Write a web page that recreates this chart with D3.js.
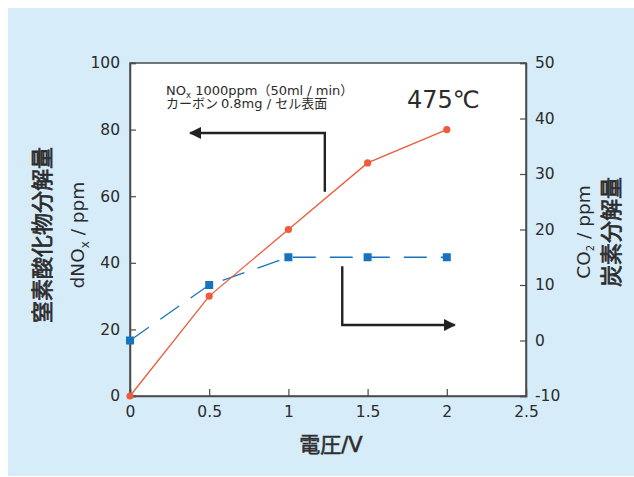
<!DOCTYPE html>
<html>
<head>
<meta charset="utf-8">
<script src="https://cdn.jsdelivr.net/npm/d3@7"></script>
<style>
  body { margin: 0; background: #fff; }
  svg { display: block; }
  text { font-family: "DejaVu Sans", "Noto Sans CJK JP", sans-serif; fill: #2b2b2b; }
  .jp { font-family: "Noto Sans CJK JP", sans-serif; }
</style>
</head>
<body>
<script>
// voltage (V)
const voltage = [0, 0.5, 1, 1.5, 2];
// dNOx decomposition, ppm (left axis)
const noxValues = [0, 30, 50, 70, 80];
// CO2, ppm (right axis)
const co2Values = [0, 10, 15, 15, 15];

const xTicks = [0, 0.5, 1, 1.5, 2, 2.5];
const yLeftTicks = [0, 20, 40, 60, 80, 100];
const yRightTicks = [-10, 0, 10, 20, 30, 40, 50];

const W = 634, H = 477;
const margin = {left: 130, right: 108, top: 63, bottom: 81};
const innerWidth = W - margin.left - margin.right;
const innerHeight = H - margin.top - margin.bottom;

const svg = d3.select("body").append("svg")
  .attr("width", W)
  .attr("height", H);

// light blue panel
svg.append("rect")
  .attr("x", 8).attr("y", 8)
  .attr("width", W - 8).attr("height", H - 9)
  .attr("fill", "#d6ecf9");

const g = svg.append("g")
  .attr("transform", `translate(${margin.left},${margin.top})`);

const x = d3.scaleLinear().domain([0, 2.5]).range([0, innerWidth]);
const yL = d3.scaleLinear().domain([0, 100]).range([innerHeight, 0]);
const yR = d3.scaleLinear().domain([-10, 50]).range([innerHeight, 0]);

g.append("rect")
  .attr("width", innerWidth).attr("height", innerHeight)
  .attr("fill", "#fff")
  .attr("stroke", "#4a4a4a").attr("stroke-width", 1.5);

// axes, ticks pointing inside
const fmt = d => String(d);   // plain hyphen for negatives
const xAxis = g.append("g")
  .attr("transform", `translate(0,${innerHeight})`)
  .call(d3.axisBottom(x).tickValues(xTicks).tickSize(-7).tickPadding(10).tickFormat(fmt));
const yAxisL = g.append("g")
  .call(d3.axisLeft(yL).tickValues(yLeftTicks).tickSize(-6).tickPadding(10).tickFormat(fmt));
const yAxisR = g.append("g")
  .attr("transform", `translate(${innerWidth},0)`)
  .call(d3.axisRight(yR).tickValues(yRightTicks).tickSize(-6).tickPadding(9).tickFormat(fmt));

[xAxis, yAxisL, yAxisR].forEach(a => {
  a.select(".domain").attr("stroke", "#4a4a4a").attr("stroke-width", 1.5);
  a.selectAll(".tick line").attr("stroke", "#4a4a4a").attr("stroke-width", 1.2);
  a.selectAll(".tick text")
    .attr("font-size", 15.5)
    .attr("font-family", "DejaVu Sans, sans-serif")
    .attr("fill", "#2b2b2b");
});
xAxis.selectAll(".tick").filter(d => d === 2.5).select("line").remove();

// arrows (annotations, placed in data coordinates)
const defs = svg.append("defs");
defs.append("marker")
  .attr("id", "head")
  .attr("viewBox", "0 0 10 10")
  .attr("refX", 9).attr("refY", 5)
  .attr("markerWidth", 12).attr("markerHeight", 12)
  .attr("markerUnits", "userSpaceOnUse")
  .attr("orient", "auto")
  .append("path").attr("d", "M0,0 L10,5 L0,10 Z").attr("fill", "#222");

const arrowLine = d3.line();
g.append("path")
  .attr("d", arrowLine([[x(1.23), yL(61.3)], [x(1.23), yL(79)], [x(0.38), yL(79)]]))
  .attr("fill", "none").attr("stroke", "#222").attr("stroke-width", 2.4)
  .attr("marker-end", "url(#head)");
g.append("path")
  .attr("d", arrowLine([[x(1.34), yR(13.4)], [x(1.34), yR(2.8)], [x(2.05), yR(2.8)]]))
  .attr("fill", "none").attr("stroke", "#222").attr("stroke-width", 2.4)
  .attr("marker-end", "url(#head)");

// CO2 series (dashed blue, squares)
const co2Line = d3.line().x((d, i) => x(voltage[i])).y(d => yR(d));
g.append("path")
  .datum(co2Values)
  .attr("d", co2Line)
  .attr("fill", "none").attr("stroke", "#1574bd").attr("stroke-width", 1.3)
  .attr("stroke-dasharray", "23,14");
g.selectAll(".sq").data(co2Values).join("rect")
  .attr("class", "sq")
  .attr("x", (d, i) => x(voltage[i]) - 4)
  .attr("y", d => yR(d) - 4)
  .attr("width", 8).attr("height", 8)
  .attr("fill", "#1574bd");

// NOx series (solid red, circles)
const noxLine = d3.line().x((d, i) => x(voltage[i])).y(d => yL(d));
g.append("path")
  .datum(noxValues)
  .attr("d", noxLine)
  .attr("fill", "none").attr("stroke", "#ef5a3a").attr("stroke-width", 1.3);
g.selectAll(".dot").data(noxValues).join("circle")
  .attr("class", "dot")
  .attr("cx", (d, i) => x(voltage[i]))
  .attr("cy", d => yL(d))
  .attr("r", 3.6)
  .attr("fill", "#ef5a3a");

// annotation text
const note = svg.append("text").attr("x", 166).attr("y", 95).attr("font-size", 13);
note.append("tspan").text("NO");
note.append("tspan").attr("font-size", 8.5).attr("dy", 3).text("x");
note.append("tspan").attr("dy", -3).text(" 1000ppm（50ml / min）");
const note2 = svg.append("text").attr("x", 166).attr("y", 108).attr("font-size", 13);
note2.append("tspan").attr("class", "jp").text("カーボン ");
note2.append("tspan").text("0.8mg / ");
note2.append("tspan").attr("class", "jp").text("セル表面");
svg.append("text")
  .attr("x", 407).attr("y", 108).attr("font-size", 24)
  .text("475℃");

// x axis title
const xt = svg.append("text")
  .attr("x", 331).attr("y", 452)
  .attr("text-anchor", "middle").attr("font-size", 21)
  .attr("fill", "#333").attr("stroke", "#333").attr("stroke-width", 0.6);
xt.append("tspan").attr("class", "jp").text("電圧");
xt.append("tspan").text("/V");

// left axis titles
svg.append("text").attr("class", "jp")
  .attr("transform", "translate(50,235) rotate(-90)")
  .attr("text-anchor", "middle").attr("font-size", 22)
  .attr("stroke", "#2b2b2b").attr("stroke-width", 0.7)
  .text("窒素酸化物分解量");
const lt = svg.append("text")
  .attr("transform", "translate(84,235) rotate(-90)")
  .attr("text-anchor", "middle").attr("font-size", 18.5);
lt.append("tspan").text("dNO");
lt.append("tspan").attr("font-size", 12).attr("dy", 5).text("x");
lt.append("tspan").attr("dy", -5).text(" / ppm");

// right axis titles
const rt = svg.append("text")
  .attr("transform", "translate(590,232) rotate(-90)")
  .attr("text-anchor", "middle").attr("font-size", 18.5);
rt.append("tspan").text("CO");
rt.append("tspan").attr("font-size", 10).attr("dy", 4).text("2");
rt.append("tspan").attr("dy", -4).text(" / ppm");
svg.append("text").attr("class", "jp")
  .attr("transform", "translate(619,232) rotate(-90)")
  .attr("text-anchor", "middle").attr("font-size", 22)
  .attr("stroke", "#2b2b2b").attr("stroke-width", 0.7)
  .text("炭素分解量");
</script>
</body>
</html>
